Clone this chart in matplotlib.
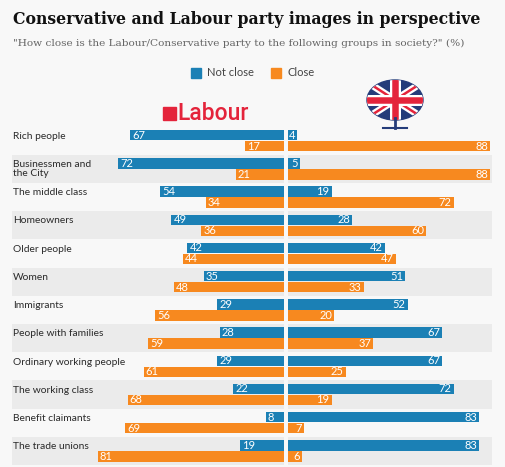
import numpy as np
import matplotlib.pyplot as plt
from matplotlib.patches import Rectangle, Ellipse

categories = ['Rich people', 'Businessmen and\nthe City', 'The middle class', 'Homeowners',
              'Older people', 'Women', 'Immigrants', 'People with families',
              'Ordinary working people', 'The working class', 'Benefit claimants',
              'The trade unions']
labour_not_close = [67, 72, 54, 49, 42, 35, 29, 28, 29, 22, 8, 19]
labour_close = [17, 21, 34, 36, 44, 48, 56, 59, 61, 68, 69, 81]
cons_not_close = [4, 5, 19, 28, 42, 51, 52, 67, 67, 72, 83, 83]
cons_close = [88, 88, 72, 60, 47, 33, 20, 37, 25, 19, 7, 6]

BLUE = '#1b80b5'
ORANGE = '#f7891f'
BAND = '#ebebeb'
BG = '#f8f8f8'

W, H = 505, 467
fig = plt.figure(figsize=(W / 100, H / 100), dpi=100, facecolor=BG)

def fx(px):
    return px / W

def fy(py):
    return 1 - py / H

top, bottom = 126.5, 465
ax_l = fig.add_axes([fx(12), fy(bottom), fx(284 - 12), fy(top) - fy(bottom)])
ax_r = fig.add_axes([fx(288), fy(bottom), fx(492 - 288), fy(top) - fy(bottom)])

n = len(categories)
y = np.arange(n)
bh = 0.37
off = 0.195
left_max = (284 - 12) / 2.3

for ax in (ax_l, ax_r):
    ax.set_facecolor('none')
    for i in range(n):
        if i % 2 == 1:
            ax.axhspan(i - 0.5, i + 0.5, color=BAND, lw=0, zorder=0)
    ax.set_ylim(n - 0.5, -0.5)
    ax.axis('off')

ax_l.set_xlim(left_max, 0)
ax_r.set_xlim(0, (492 - 288) / 2.3)

ax_l.barh(y - off, labour_not_close, height=bh, color=BLUE, zorder=2)
ax_l.barh(y + off, labour_close, height=bh, color=ORANGE, zorder=2)
ax_r.barh(y - off, cons_not_close, height=bh, color=BLUE, zorder=2)
ax_r.barh(y + off, cons_close, height=bh, color=ORANGE, zorder=2)

num_kw = dict(color='white', fontsize=8, family='Lato', va='center', zorder=3)
for i in range(n):
    ax_l.annotate(str(labour_not_close[i]), (labour_not_close[i], i - off),
                  xytext=(1.5, 0), textcoords='offset points', ha='left', **num_kw)
    ax_l.annotate(str(labour_close[i]), (labour_close[i], i + off),
                  xytext=(1.5, 0), textcoords='offset points', ha='left', **num_kw)
    ax_r.annotate(str(cons_not_close[i]), (cons_not_close[i], i - off),
                  xytext=(-1.5, 0), textcoords='offset points', ha='right', **num_kw)
    ax_r.annotate(str(cons_close[i]), (cons_close[i], i + off),
                  xytext=(-1.5, 0), textcoords='offset points', ha='right', **num_kw)
    ty = i if '\n' in categories[i] else i - 0.15
    ax_l.text(left_max - 0.5, ty, categories[i], ha='left', va='center', fontsize=7.4,
              family='Lato', color='#2a2a2a', linespacing=1.05, zorder=3)

# titles
fig.text(fx(13), fy(20), 'Conservative and Labour party images in perspective',
         fontsize=11.3, family='DejaVu Serif', weight='heavy', color='#111111',
         ha='left', va='center')
fig.text(fx(13), fy(43), '"How close is the Labour/Conservative party to the following groups in society?" (%)',
         fontsize=7.55, family='DejaVu Serif', color='#666666', ha='left', va='center')

# legend
fig.patches.append(Rectangle((fx(191), fy(78)), fx(10), fx(10) * W / H,
                             transform=fig.transFigure, color=BLUE))
fig.text(fx(207), fy(73), 'Not close', fontsize=8, family='Lato', color='#444444', va='center')
fig.patches.append(Rectangle((fx(271), fy(78)), fx(10), fx(10) * W / H,
                             transform=fig.transFigure, color=ORANGE))
fig.text(fx(287), fy(73), 'Close', fontsize=8, family='Lato', color='#444444', va='center')

# Labour logo
fig.patches.append(Rectangle((fx(163), fy(120)), fx(13), fx(13) * W / H,
                             transform=fig.transFigure, color='#e4243b'))
fig.text(fx(177), fy(113), 'Labour', fontsize=16.5, family='Roboto', weight='medium',
         color='#e4243b', va='center', ha='left')

# Conservative tree logo (rough sketch)
cx, cy = 395, 100
tree = Ellipse((fx(cx), fy(cy)), fx(56), fx(40) * W / H, transform=fig.transFigure,
               color='#243c7a')
fig.patches.append(tree)
for pts, col, lw in [([(cx - 28, cy - 18), (cx + 28, cy + 18)], 'white', 7),
                     ([(cx - 28, cy + 18), (cx + 28, cy - 18)], 'white', 7),
                     ([(cx - 28, cy - 18), (cx + 28, cy + 18)], '#e4243b', 2.5),
                     ([(cx - 28, cy + 18), (cx + 28, cy - 18)], '#e4243b', 2.5),
                     ([(cx - 30, cy), (cx + 30, cy)], 'white', 11),
                     ([(cx, cy - 22), (cx, cy + 22)], 'white', 11),
                     ([(cx - 30, cy), (cx + 30, cy)], '#e4243b', 6.5),
                     ([(cx, cy - 22), (cx, cy + 22)], '#e4243b', 6.5)]:
    line = plt.Line2D([fx(p[0]) for p in pts], [fy(p[1]) for p in pts], color=col,
                      lw=lw * 0.72, transform=fig.transFigure)
    line.set_clip_path(tree)
    fig.lines.append(line)
fig.lines.append(plt.Line2D([fx(cx), fx(cx)], [fy(118), fy(128)], color='#243c7a', lw=2,
                            transform=fig.transFigure))
fig.lines.append(plt.Line2D([fx(cx - 12), fx(cx + 12)], [fy(128), fy(128)], color='#243c7a',
                            lw=1.5, transform=fig.transFigure))

fig.savefig('out.png', dpi=100, facecolor=BG)
